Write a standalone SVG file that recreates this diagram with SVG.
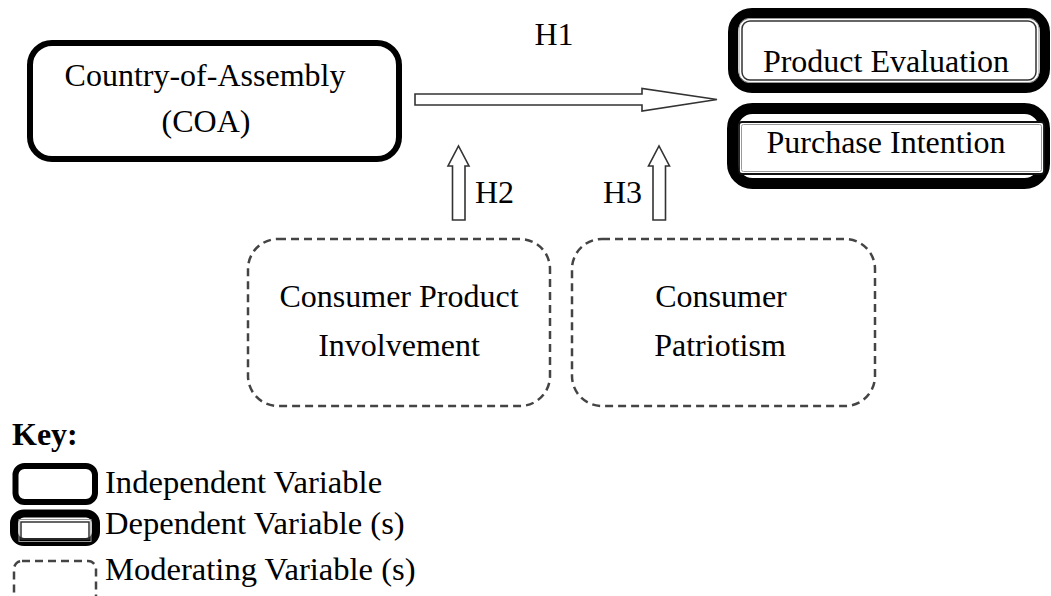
<svg xmlns="http://www.w3.org/2000/svg" width="1051" height="596" viewBox="0 0 1051 596">
  <style>
    text { font-family: "Liberation Serif", "Times New Roman", serif; font-size: 32px; fill: #000; }
    .mid { text-anchor: middle; }
    .key { font-size: 32.6px; }
    .indep { fill: #fff; stroke: #000; stroke-width: 6; }
    .dep-outer { fill: #fff; stroke: #000; }
    .dep-line { fill: none; stroke: #333; stroke-width: 1.5; }
    .dep-soft { fill: none; stroke: #999; stroke-width: 1; }
    .mod { fill: #fff; stroke: #444; stroke-width: 2.5; stroke-dasharray: 8 5; }
    .block { fill: #fff; stroke: #333; stroke-width: 1.6; stroke-linejoin: miter; }
  </style>

  <rect width="1051" height="596" fill="#fff"/>

  <!-- independent variable -->
  <g id="node-coa">
    <rect class="indep" x="30" y="43" width="369" height="116" rx="22"/>
    <text class="mid" x="205" y="86">Country-of-Assembly</text>
    <text class="mid" x="206" y="132">(COA)</text>
  </g>

  <!-- dependent variables -->
  <g id="node-product-evaluation">
    <rect class="dep-outer" stroke-width="10" x="733" y="13" width="312" height="75" rx="19"/>
    <rect class="dep-soft" x="739" y="18.5" width="300" height="64" rx="10"/>
    <rect class="dep-line" x="742" y="21" width="294" height="59" rx="8"/>
    <text class="mid" x="886" y="72">Product Evaluation</text>
  </g>

  <g id="node-purchase-intention">
    <rect class="dep-outer" stroke-width="11" x="732.5" y="108.5" width="312" height="75" rx="20"/>
    <rect fill="#fff" stroke="#111" stroke-width="1.8" x="739" y="122" width="305" height="52" rx="3"/>
    <rect class="dep-soft" x="741.5" y="124.5" width="300" height="47" rx="2"/>
    <text class="mid" x="886" y="153">Purchase Intention</text>
  </g>

  <!-- moderating variables -->
  <g id="node-involvement">
    <rect class="mod" x="248" y="239" width="302" height="167" rx="30"/>
    <text class="mid" x="399" y="307">Consumer Product</text>
    <text class="mid" x="399" y="356">Involvement</text>
  </g>

  <g id="node-patriotism">
    <rect class="mod" x="572" y="239" width="303" height="167" rx="30"/>
    <text class="mid" x="721" y="307">Consumer</text>
    <text class="mid" x="720" y="356">Patriotism</text>
  </g>

  <!-- hypothesis arrows -->
  <g id="connectors">
    <path class="block" d="M415,94 L642,94 L642,88.5 L717,99.5 L642,111 L642,105 L415,105 Z"/>
    <path class="block" d="M452.5,220 L452.5,166 L448,166 L458.5,146 L469,166 L465,166 L465,220 Z"/>
    <path class="block" d="M653,220 L653,166 L648.5,166 L659,146 L669.5,166 L665.5,166 L665.5,220 Z"/>
    <text class="mid" x="554" y="45">H1</text>
    <text x="475" y="203">H2</text>
    <text x="603" y="203">H3</text>
  </g>

  <!-- legend -->
  <g id="legend">
    <text x="12" y="445" font-weight="bold">Key:</text>
    <rect class="indep" x="15.5" y="466" width="79.5" height="36" rx="9"/>
    <text class="key" x="105" y="493">Independent Variable</text>
    <rect class="dep-outer" stroke-width="8" x="14" y="513.5" width="82" height="28.5" rx="10"/>
    <rect class="dep-soft" x="19" y="519.5" width="72" height="22"/>
    <rect class="dep-line" x="21" y="522" width="68" height="17"/>
    <text class="key" x="105" y="534">Dependent Variable (s)</text>
    <rect class="mod" stroke-dasharray="10 4" stroke-width="2.2" x="14" y="561" width="82" height="60" rx="8"/>
    <text class="key" x="105" y="580">Moderating Variable (s)</text>
  </g>
</svg>
